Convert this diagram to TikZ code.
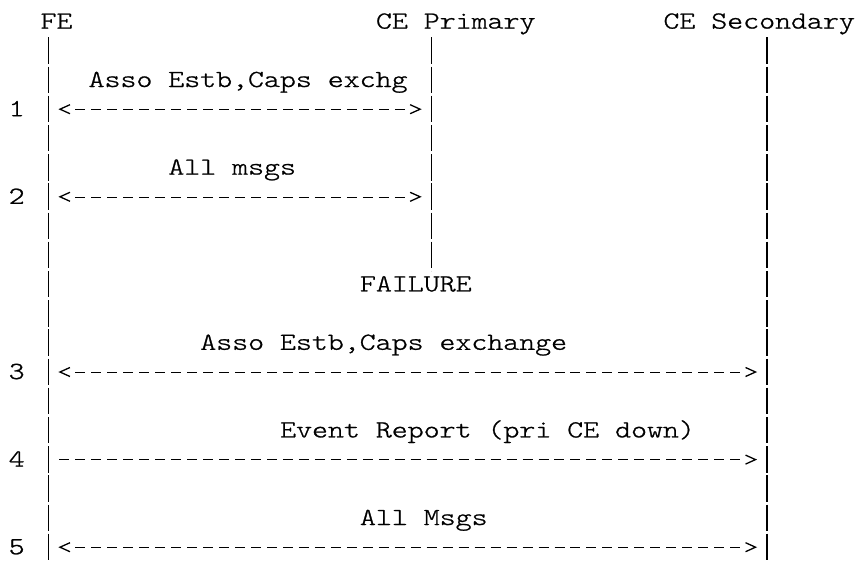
\documentclass[tikz,border=0pt]{standalone}
\usepackage{fontspec}
\newfontfamily\rfcfont{lmmonolt10-regular.otf}[FakeStretch=1.24, FakeBold=1]
\usetikzlibrary{arrows.meta}

\begin{document}
\begin{tikzpicture}[x=1pt, y=1pt,
        txt/.style={anchor=base west, inner sep=0pt, font=\rfcfont\fontsize{24.5}{29.2}\selectfont},
        life/.style={line width=1.4pt, dash pattern=on 26.5pt off 2.7pt},
        ascii/.tip={Straight Barb[length=10pt, width=9pt]},
        msg/.style={line width=1.3pt, dash pattern=on 0pt off 2000pt},
        shaft/.style={draw, arrows=-, dash pattern=on 10pt off 5.97pt},
        twoway/.style={msg, {ascii}-{ascii}, shorten <=10pt, shorten >=10pt,
            preaction={shaft, shorten <=27pt, shorten >=27pt}},
        oneway/.style={msg, -{ascii}, shorten <=11pt, shorten >=10pt,
            preaction={shaft, shorten <=11pt, shorten >=27pt}}]
        \useasboundingbox (0,0) rectangle (857,-560);
        \node[txt] (fe) at (40.4,-28.6) {FE};
        \node[txt] (cep) at (375.8,-28.6) {CE Primary};
        \node[txt] (ces) at (663.3,-28.6) {CE Secondary};
        \coordinate (feL) at (48.4,-37.3);
        \coordinate (cepL) at (431.7,-37.3);
        \coordinate (cesL) at (767.1,-37.3);
        \coordinate (feE) at (48.4,-562.9);
        \coordinate (cepE) at (431.7,-270.9);
        \coordinate (cesE) at (767.1,-562.9);
        \draw[life] (feL) -- (feE);
        \draw[life] (cepL) -- (cepE);
        \draw[life] (cesL) -- (cesE);
        \foreach \i/\r in {1/3, 2/6, 3/12, 4/15, 5/18} {
            \node[txt] (n\i) at (8.5,{-28.6-29.2*\r}) {\i};
            \coordinate (m\i) at (0,{-21.6-29.2*\r});
        }
        \node[txt] (estb) at (88.4,-87.0) {Asso Estb,Caps exchg};
        \node[txt] (all) at (168.2,-174.6) {All msgs};
        \node[txt] (fail) at (359.8,-291.4) {FAILURE};
        \node[txt] (estb2) at (200.1,-349.8) {Asso Estb,Caps exchange};
        \node[txt] (event) at (280.0,-437.4) {Event Report (pri CE down)};
        \node[txt] (all2) at (359.8,-525.0) {All Msgs};
        \draw[twoway] (feL |- m1) -- (cepL |- m1);
        \draw[twoway] (feL |- m2) -- (cepL |- m2);
        \draw[twoway] (feL |- m3) -- (cesL |- m3);
        \draw[oneway] (feL |- m4) -- (cesL |- m4);
        \draw[twoway] (feL |- m5) -- (cesL |- m5);
    \end{tikzpicture}
\end{document}
